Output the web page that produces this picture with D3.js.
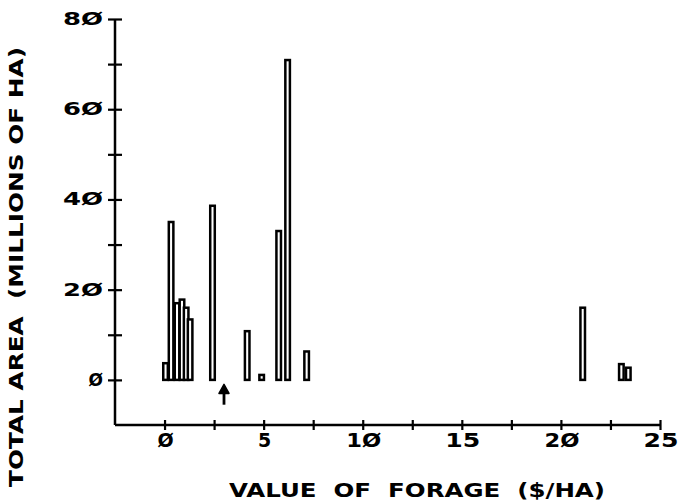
<!DOCTYPE html>
<meta charset="utf-8">
<style>
  body { margin: 0; background: #fff; }
  svg { display: block; }
  .lbl { font-family: "DejaVu Sans", sans-serif; font-weight: bold; fill: #000; white-space: pre; }
</style>
<body>
<div id="chart"></div>
<script src="https://d3js.org/d3.v7.min.js"></script>
<script>

// forage value classes ($/ha) and total area in each (millions of ha)
var forageValue = [0.05, 0.33, 0.63, 0.88, 1.09, 1.29, 2.42, 4.17, 4.9, 5.76, 6.21, 7.17, 21.1, 23.05, 23.4];
var totalArea   = [3.7, 35, 17, 17.8, 16, 13.4, 38.6, 10.8, 1.1, 33, 70.9, 6.3, 16, 3.5, 2.7];

var xTicks = [0, 2.5, 5, 7.5, 10, 12.5, 15, 17.5, 20, 22.5, 25];
var xTickLabels = ["Ø", "5", "1Ø", "15", "2Ø", "25"];   // every 5
var yTicks = [0, 10, 20, 30, 40, 50, 60, 70, 80];
var yTickLabels = ["Ø", "2Ø", "4Ø", "6Ø", "8Ø"];        // every 20
var arrowAt = 3.0;   // marked value on the x axis

var width = 678, height = 500;

var svg = d3.select("#chart").append("svg")
    .attr("width", width)
    .attr("height", height);

var x = d3.scaleLinear().domain([-2.5, 25]).range([115, 660]);
var y = d3.scaleLinear().domain([-10, 80]).range([425, 19]);

// axis lines
svg.append("line")
    .attr("x1", x(-2.5)).attr("x2", x(-2.5))
    .attr("y1", y(80)).attr("y2", y(-10))
    .attr("stroke", "#000").attr("stroke-width", 2.5);
svg.append("line")
    .attr("x1", x(-2.5)).attr("x2", x(25))
    .attr("y1", y(-10)).attr("y2", y(-10))
    .attr("stroke", "#000").attr("stroke-width", 2.5);

// y ticks cross the axis
var yAxis = svg.append("g")
    .attr("transform", "translate(" + x(-2.5) + ",0)")
    .call(d3.axisLeft(y).tickValues(yTicks).tickSize(7).tickFormat(""));
yAxis.select(".domain").remove();
yAxis.selectAll(".tick line").attr("x1", 7).attr("stroke-width", 2.2);

// x ticks cross the axis
var xAxis = svg.append("g")
    .attr("transform", "translate(0," + y(-10) + ")")
    .call(d3.axisBottom(x).tickValues(xTicks).tickSize(5).tickFormat(""));
xAxis.select(".domain").remove();
xAxis.selectAll(".tick line").attr("y1", -5).attr("stroke-width", 2.2);

// tick labels
svg.selectAll(".ylab")
    .data(yTickLabels)
  .enter().append("text")
    .attr("class", "lbl")
    .attr("x", 103)
    .attr("y", function(d, i) { return y(i * 20) + 6; })
    .attr("text-anchor", "end")
    .attr("font-size", 17)
    .attr("textLength", function(d) { return d.length > 1 ? 40 : null; })
    .attr("lengthAdjust", "spacingAndGlyphs")
    .text(function(d) { return d; });

svg.selectAll(".xlab")
    .data(xTickLabels)
  .enter().append("text")
    .attr("class", "lbl")
    .attr("x", function(d, i) { return x(i * 5) + 1; })
    .attr("y", 447)
    .attr("text-anchor", "middle")
    .attr("font-size", 19)
    .attr("textLength", function(d) { return d.length > 1 ? 35 : null; })
    .attr("lengthAdjust", "spacingAndGlyphs")
    .text(function(d) { return d; });

// bars as narrow open rectangles
var barW = 0.23;
var bars = forageValue.map(function(v, i) { return {v: v, a: totalArea[i]}; });
svg.append("g")
  .selectAll("rect")
    .data(bars)
  .enter().append("rect")
    .attr("x", function(d) { return x(d.v - barW / 2); })
    .attr("width", function(d) { return x(barW) - x(0); })
    .attr("y", function(d) { return y(d.a); })
    .attr("height", function(d) { return y(0) - y(d.a); })
    .attr("fill", "#fff")
    .attr("stroke", "#000")
    .attr("stroke-width", 2.5);

// arrow
var ax = x(arrowAt);
svg.append("line")
    .attr("x1", ax).attr("x2", ax)
    .attr("y1", y(-2)).attr("y2", y(-5.5))
    .attr("stroke", "#000").attr("stroke-width", 2.8);
svg.append("path")
    .attr("d", "M" + (ax - 5) + "," + (y(-1) + 9) + "L" + ax + "," + y(-1) + "L" + (ax + 5) + "," + (y(-1) + 9) + "Z")
    .attr("fill", "#000")
    .attr("stroke", "#000").attr("stroke-width", 1.5)
    .attr("stroke-linejoin", "round");

// axis titles
svg.append("text")
    .attr("class", "lbl")
    .attr("x", 417)
    .attr("y", 497)
    .attr("text-anchor", "middle")
    .attr("font-size", 19)
    .attr("textLength", 376)
    .attr("lengthAdjust", "spacingAndGlyphs")
    .text("VALUE  OF  FORAGE  ($/HA)");

svg.append("text")
    .attr("class", "lbl")
    .attr("transform", "translate(23,267) rotate(-90)")
    .attr("text-anchor", "middle")
    .attr("font-size", 19)
    .attr("textLength", 440)
    .attr("lengthAdjust", "spacingAndGlyphs")
    .text("TOTAL AREA  (MILLIONS OF HA)");

</script>
</body>
